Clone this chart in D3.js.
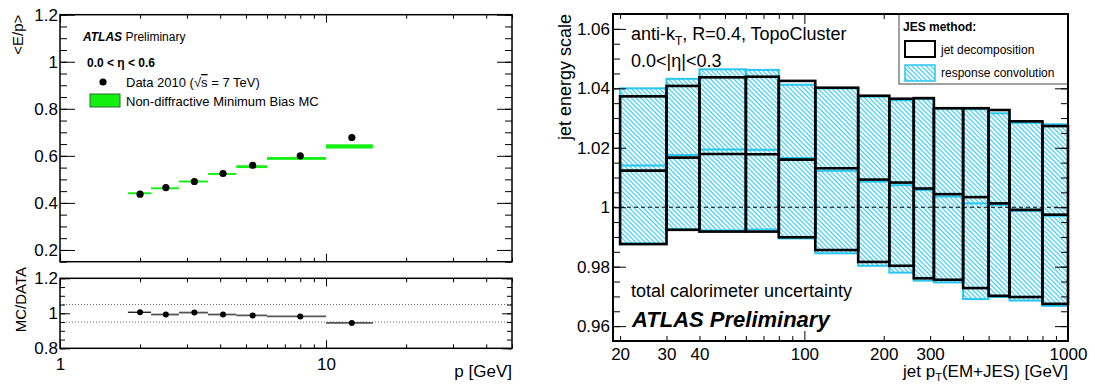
<!DOCTYPE html>
<html>
<head>
<meta charset="utf-8">
<script src="https://cdn.jsdelivr.net/npm/d3@7"></script>
<style>
  body { margin: 0; background: #fff; }
  svg { display: block; font-family: "Liberation Sans", Arial, Helvetica, sans-serif; }
</style>
</head>
<body>
<svg id="mainsvg" width="1095" height="385"></svg>
<script>
// ---- left: <E/p> vs p ----
var pEdges = [1.8, 2.2, 2.8, 3.6, 4.6, 6, 10, 15];
var pData = [2.0, 2.5, 3.2, 4.1, 5.3, 8.0, 12.5];
var epData = [0.437, 0.465, 0.491, 0.525, 0.560, 0.600, 0.678];
var epMC = [0.441, 0.462, 0.491, 0.523, 0.554, 0.589, 0.640];
var epMCErr = [0.004, 0.004, 0.004, 0.004, 0.006, 0.006, 0.009];
var ratio = [1.006, 0.993, 1.004, 0.993, 0.988, 0.982, 0.945];

// ---- right: jet energy scale vs pT ----
var ptEdges = [20, 30, 40, 60, 80, 110, 160, 210, 260, 310, 400, 500, 600, 800, 1000];
var decompHigh = [1.0373, 1.0408, 1.0437, 1.0439, 1.0425, 1.0402, 1.0375, 1.0365, 1.0367, 1.0333, 1.0333, 1.0327, 1.0289, 1.0273];
var decompMid = [1.0123, 1.0167, 1.0179, 1.0178, 1.0160, 1.0131, 1.0093, 1.0083, 1.0063, 1.0044, 1.0034, 1.0013, 0.9991, 0.9975];
var decompLow = [0.9876, 0.9924, 0.9918, 0.9918, 0.9899, 0.9856, 0.9816, 0.9803, 0.9761, 0.9756, 0.9728, 0.9702, 0.9698, 0.9675];
var convHigh = [1.0400, 1.0432, 1.0464, 1.0462, 1.0412, 1.0400, 1.0372, 1.0360, 1.0364, 1.0332, 1.0330, 1.0316, 1.0284, 1.0279];
var convMid = [1.0140, 1.0176, 1.0194, 1.0193, 1.0166, 1.0123, 1.0086, 1.0074, 1.0058, 1.0036, 1.0013, 1.0008, 0.9988, 0.9971];
var convLow = [0.9878, 0.9926, 0.9922, 0.9925, 0.9895, 0.9845, 0.9803, 0.9780, 0.9753, 0.9747, 0.9691, 0.9698, 0.9686, 0.9668];

var ptLabels = [20, 30, 40, 100, 200, 300, 1000];
var ptMajor = [100, 1000];
var jesLabels = [0.96, 0.98, 1, 1.02, 1.04, 1.06];
var epLabels = [0.2, 0.4, 0.6, 0.8, 1, 1.2];
var ratioLabels = [0.8, 1, 1.2];

var FONT = '"Liberation Sans", Arial, Helvetica, sans-serif';
var CYAN = "#29c6f2";
var GREEN = "#11f011";

var svg = d3.select("#mainsvg");

function fmtNum(d) {
  return d === 1 ? "1" : String(+d.toFixed(2));
}

function logMinors(lo, hi) {
  var out = [];
  for (var dec = 1; dec <= 1000; dec *= 10) {
    for (var k = 2; k <= 9; k++) {
      var v = k * dec;
      if (v >= lo && v <= hi) out.push(v);
    }
  }
  return out;
}

function stepValues(lo, hi, step) {
  var out = [];
  var n = Math.round((hi - lo) / step);
  for (var i = 0; i <= n; i++) out.push(+(lo + i * step).toFixed(4));
  return out;
}

// ticks pointing inward, d3 axis, domain path removed
function addAxis(g, axisFn, scale, values, len, tx, ty, fmt, pad, size) {
  var a = axisFn(scale).tickValues(values).tickSizeInner(-len).tickSizeOuter(0)
    .tickPadding(pad || 3).tickFormat(fmt || "");
  var ax = g.append("g").attr("transform", "translate(" + tx + "," + ty + ")").call(a);
  ax.select(".domain").remove();
  ax.attr("font-family", FONT).attr("font-size", size || 17);
  ax.selectAll(".tick line").attr("stroke", "#000");
  ax.selectAll("text").attr("fill", "#000");
  return ax;
}

// ================= LEFT PANEL =================
var L = { x0: 60, x1: 512, top: 14.7, bot: 261.7, rTop: 278.3, rBot: 348.3 };
var pX = d3.scaleLog().domain([1, 50]).range([L.x0, L.x1]);
var epY = d3.scaleLinear().domain([0.15, 1.2]).range([L.bot, L.top]);
var rY = d3.scaleLinear().domain([0.8, 1.2]).range([L.rBot, L.rTop]);

var left = svg.append("g").attr("id", "left");

// MC bands
left.selectAll("rect.mc").data(epMC).enter().append("rect")
  .attr("class", "mc")
  .attr("x", function (d, i) { return pX(pEdges[i]); })
  .attr("width", function (d, i) { return pX(pEdges[i + 1]) - pX(pEdges[i]); })
  .attr("y", function (d, i) { return epY(d + epMCErr[i]); })
  .attr("height", function (d, i) { return epY(d - epMCErr[i]) - epY(d + epMCErr[i]); })
  .attr("fill", GREEN);

// data points
left.selectAll("circle.data").data(epData).enter().append("circle")
  .attr("cx", function (d, i) { return pX(pData[i]); })
  .attr("cy", function (d) { return epY(d); })
  .attr("r", 3.6).attr("fill", "#000");

// ratio reference lines
[1.05, 0.95].forEach(function (v) {
  left.append("line")
    .attr("x1", L.x0).attr("x2", L.x1).attr("y1", rY(v)).attr("y2", rY(v))
    .attr("stroke", "#666").attr("stroke-width", 1).attr("stroke-dasharray", "1,2");
});

left.selectAll("line.rseg").data(ratio).enter().append("line")
  .attr("x1", function (d, i) { return pX(pEdges[i]); })
  .attr("x2", function (d, i) { return pX(pEdges[i + 1]); })
  .attr("y1", function (d) { return rY(d); })
  .attr("y2", function (d) { return rY(d); })
  .attr("stroke", function (d, i) { return i === 0 ? "#000" : "#555"; })
  .attr("stroke-width", function (d, i) { return i === 0 ? 1.2 : 1.8; });

left.selectAll("circle.ratio").data(ratio).enter().append("circle")
  .attr("cx", function (d, i) { return pX(pData[i]); })
  .attr("cy", function (d) { return rY(d); })
  .attr("r", 3).attr("fill", "#000");

// axes left
var pMinor = logMinors(1, 50);
[[L.top, L.bot, epY, epLabels, stepValues(0.15, 1.2, 0.05), 15, 7],
 [L.rTop, L.rBot, rY, ratioLabels, stepValues(0.8, 1.2, 0.05), 10, 5]].forEach(function (p) {
  var top = p[0], bot = p[1], ys = p[2];
  addAxis(left, d3.axisBottom, pX, [1, 10], 8, 0, bot);
  addAxis(left, d3.axisBottom, pX, pMinor, 4, 0, bot);
  addAxis(left, d3.axisTop, pX, [1, 10], 8, 0, top);
  addAxis(left, d3.axisTop, pX, pMinor, 4, 0, top);
  addAxis(left, d3.axisLeft, ys, p[3], p[5], L.x0, 0, fmtNum, 2, 17);
  addAxis(left, d3.axisLeft, ys, p[4], p[6], L.x0, 0);
  addAxis(left, d3.axisRight, ys, p[3], p[5], L.x1, 0);
  addAxis(left, d3.axisRight, ys, p[4], p[6], L.x1, 0);
  left.append("rect").attr("x", L.x0).attr("y", top)
    .attr("width", L.x1 - L.x0).attr("height", bot - top)
    .attr("fill", "none").attr("stroke", "#000").attr("stroke-width", 1.5);
});
addAxis(left, d3.axisBottom, pX, [1, 10], 0, 0, L.rBot, d3.format("d"), 10, 17);

// left texts
left.append("text").attr("transform", "translate(23," + L.top + ") rotate(-90)")
  .attr("text-anchor", "end").attr("font-size", 15).text("<E/p>");
left.append("text").attr("transform", "translate(26," + 267 + ") rotate(-90)")
  .attr("text-anchor", "end").attr("font-size", 15).text("MC/DATA");
left.append("text").attr("x", L.x1).attr("y", 377).attr("text-anchor", "end")
  .attr("font-size", 17).text("p [GeV]");

var atl = left.append("text").attr("x", 83).attr("y", 41).attr("font-size", 12);
atl.append("tspan").attr("font-weight", "bold").attr("font-style", "italic").text("ATLAS");
atl.append("tspan").text(" Preliminary");
left.append("text").attr("x", 87).attr("y", 67).attr("font-size", 12)
  .attr("font-weight", "bold").text("0.0 < η < 0.6");

left.append("circle").attr("cx", 103).attr("cy", 82).attr("r", 3.6).attr("fill", "#000");
var dl = left.append("text").attr("x", 126).attr("y", 87).attr("font-size", 13);
dl.append("tspan").text("Data 2010 (√");
dl.append("tspan").style("text-decoration", "overline").text("s");
dl.append("tspan").text(" = 7 TeV)");
left.append("rect").attr("x", 90).attr("y", 94).attr("width", 30).attr("height", 13)
  .attr("fill", GREEN).attr("stroke", "#2b6b2b").attr("stroke-width", 1);
left.append("text").attr("x", 126).attr("y", 105.5).attr("font-size", 13)
  .text("Non-diffractive Minimum Bias MC");

// ================= RIGHT PANEL =================
var R = { x0: 613, x1: 1068, top: 14, bot: 341 };
var ptX = d3.scaleLog().domain([18.8, 1000]).range([R.x0, R.x1]);
var jesY = d3.scaleLinear().domain([0.955, 1.065]).range([R.bot, R.top]);

var right = svg.append("g").attr("id", "right");

var defs = svg.append("defs");
var pat = defs.append("pattern").attr("id", "hatch").attr("patternUnits", "userSpaceOnUse")
  .attr("width", 3.3).attr("height", 10).attr("patternTransform", "rotate(-45)");
pat.append("line").attr("x1", 1).attr("y1", 0).attr("x2", 1).attr("y2", 10)
  .attr("stroke", CYAN).attr("stroke-width", 1.1);

function binX(i) { return ptX(ptEdges[i]); }
function binW(i) { return ptX(ptEdges[i + 1]) - ptX(ptEdges[i]); }

// response convolution (cyan hatched)
right.selectAll("rect.conv").data(convHigh).enter().append("rect")
  .attr("x", function (d, i) { return binX(i); })
  .attr("width", function (d, i) { return binW(i); })
  .attr("y", function (d) { return jesY(d); })
  .attr("height", function (d, i) { return jesY(convLow[i]) - jesY(d); })
  .attr("fill", "url(#hatch)").attr("stroke", CYAN).attr("stroke-width", 2);
right.selectAll("line.convmid").data(convMid).enter().append("line")
  .attr("x1", function (d, i) { return binX(i); })
  .attr("x2", function (d, i) { return binX(i) + binW(i); })
  .attr("y1", function (d) { return jesY(d); })
  .attr("y2", function (d) { return jesY(d); })
  .attr("stroke", CYAN).attr("stroke-width", 2);

// jet decomposition (black boxes)
right.selectAll("rect.dec").data(decompHigh).enter().append("rect")
  .attr("x", function (d, i) { return binX(i); })
  .attr("width", function (d, i) { return binW(i); })
  .attr("y", function (d) { return jesY(d); })
  .attr("height", function (d, i) { return jesY(decompLow[i]) - jesY(d); })
  .attr("fill", "none").attr("stroke", "#000").attr("stroke-width", 2.6);
right.selectAll("line.decmid").data(decompMid).enter().append("line")
  .attr("x1", function (d, i) { return binX(i); })
  .attr("x2", function (d, i) { return binX(i) + binW(i); })
  .attr("y1", function (d) { return jesY(d); })
  .attr("y2", function (d) { return jesY(d); })
  .attr("stroke", "#000").attr("stroke-width", 2.6);

right.append("line").attr("x1", R.x0).attr("x2", R.x1).attr("y1", jesY(1)).attr("y2", jesY(1))
  .attr("stroke", "#000").attr("stroke-width", 1).attr("stroke-dasharray", "4,3");

// axes right
var ptMinor = logMinors(20, 1000).filter(function (v) { return ptMajor.indexOf(v) < 0; });
var jesMinor = stepValues(0.955, 1.065, 0.005);
addAxis(right, d3.axisBottom, ptX, ptMajor, 10, 0, R.bot);
addAxis(right, d3.axisBottom, ptX, ptMinor, 5, 0, R.bot);
addAxis(right, d3.axisTop, ptX, ptMajor, 10, 0, R.top);
addAxis(right, d3.axisTop, ptX, ptMinor, 5, 0, R.top);
addAxis(right, d3.axisBottom, ptX, ptLabels, 0, 0, R.bot, d3.format("d"), 7, 17);
addAxis(right, d3.axisLeft, jesY, jesLabels, 13, R.x0, 0, fmtNum, 3, 17);
addAxis(right, d3.axisLeft, jesY, jesMinor, 7, R.x0, 0);
addAxis(right, d3.axisRight, jesY, jesLabels, 13, R.x1, 0);
addAxis(right, d3.axisRight, jesY, jesMinor, 7, R.x1, 0);

// legend
right.append("rect").attr("x", 899).attr("y", R.top).attr("width", R.x1 - 899).attr("height", 70)
  .attr("fill", "#fff").attr("stroke", "#444").attr("stroke-width", 1);
right.append("text").attr("x", 903).attr("y", 31).attr("font-size", 12)
  .attr("font-weight", "bold").text("JES method:");
right.append("rect").attr("x", 905).attr("y", 41).attr("width", 30).attr("height", 16)
  .attr("fill", "#fff").attr("stroke", "#000").attr("stroke-width", 2);
right.append("text").attr("x", 941).attr("y", 53.5).attr("font-size", 12).text("jet decomposition");
right.append("rect").attr("x", 905).attr("y", 65).attr("width", 30).attr("height", 16)
  .attr("fill", "url(#hatch)").attr("stroke", CYAN).attr("stroke-width", 1.5);
right.append("text").attr("x", 941).attr("y", 77).attr("font-size", 12).text("response convolution");

right.append("rect").attr("x", R.x0).attr("y", R.top)
  .attr("width", R.x1 - R.x0).attr("height", R.bot - R.top)
  .attr("fill", "none").attr("stroke", "#000").attr("stroke-width", 2);

// right texts
var t1 = right.append("text").attr("x", 631).attr("y", 39.5).attr("font-size", 18);
t1.append("tspan").text("anti-k");
t1.append("tspan").attr("font-size", 12).attr("dy", 5).text("T");
t1.append("tspan").attr("dy", -5).text(", R=0.4, TopoCluster");
right.append("text").attr("x", 631).attr("y", 67).attr("font-size", 18).text("0.0<|η|<0.3");
right.append("text").attr("x", 631).attr("y", 297).attr("font-size", 18)
  .text("total calorimeter uncertainty");
right.append("text").attr("x", 632).attr("y", 327).attr("font-size", 22)
  .attr("font-weight", "bold").attr("font-style", "italic").text("ATLAS Preliminary");

right.append("text").attr("transform", "translate(571," + R.top + ") rotate(-90)")
  .attr("text-anchor", "end").attr("font-size", 18).text("jet energy scale");
var xt = right.append("text").attr("x", R.x1).attr("y", 376.5).attr("text-anchor", "end")
  .attr("font-size", 17);
xt.append("tspan").text("jet p");
xt.append("tspan").attr("font-size", 11).attr("dy", 4).text("T");
xt.append("tspan").attr("dy", -4).text("(EM+JES) [GeV]");
</script>
</body>
</html>
